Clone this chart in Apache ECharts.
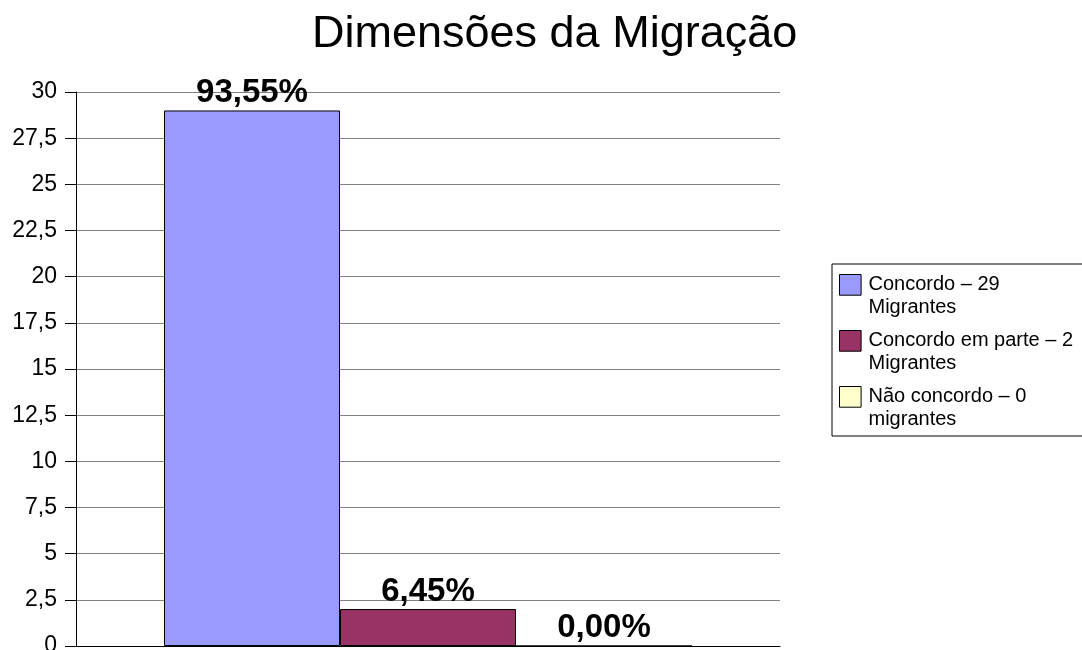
<!DOCTYPE html>
<html>
<head>
<meta charset="utf-8">
<script src="https://cdn.jsdelivr.net/npm/echarts@6/dist/echarts.min.js"></script>
<style>
html,body{margin:0;padding:0;background:#fff;}
#chart{width:1082px;height:650px;}
</style>
</head>
<body>
<div id="chart"></div>
<script>
const title = 'Dimensões da Migração';
const categories = [''];
const seriesNames = ['Concordo – 29\nMigrantes', 'Concordo em parte – 2\nMigrantes', 'Não concordo – 0\nmigrantes'];
const seriesValues = [29, 2, 0];
const seriesLabels = ['93,55%', '6,45%', '0,00%'];
const seriesColors = ['#9999ff', '#993366', '#ffffcc'];
const yMin = 0, yMax = 30, yStep = 2.5;

const FONT = 'Liberation Sans, Arial, sans-serif';
const iconPath = 'path://M0,0L0.01,0M0,1H21.6V21.7H0ZM24,45L23.99,45';

const chart = echarts.init(document.getElementById('chart'), null, {renderer: 'canvas'});
const series = seriesNames.map((name, i) => ({
  name: name,
  type: 'bar',
  data: [seriesValues[i]],
  barGap: '0%',
  barCategoryGap: '25%',
  itemStyle: {color: seriesColors[i], borderColor: '#000', borderWidth: 1},
  label: {
    show: true,
    position: 'top',
    distance: 1,
    formatter: () => seriesLabels[i],
    fontFamily: FONT,
    fontSize: 33,
    fontWeight: 'bold',
    color: '#000'
  },
  emphasis: {disabled: true},
  animation: false
}));

chart.setOption({
  animation: false,
  backgroundColor: '#fff',
  title: {
    text: title,
    left: 312,
    top: 12,
    padding: 0,
    textStyle: {fontFamily: FONT, fontSize: 45, fontWeight: 'normal', color: '#000'}
  },
  legend: {
    orient: 'vertical',
    left: 832,
    top: 264,
    padding: [9, 40, 5, 7],
    itemGap: 10,
    itemWidth: 24,
    itemHeight: 45,
    icon: iconPath,
    borderColor: '#000',
    borderWidth: 1,
    itemStyle: {borderColor: '#000', borderWidth: 1},
    textStyle: {fontFamily: FONT, fontSize: 20, lineHeight: 22.5, color: '#000', padding: 0},
    data: seriesNames
  },
  grid: {left: 76, right: 302, top: 92, bottom: 4, containLabel: false, outerBoundsMode: 'none'},
  xAxis: {
    type: 'category',
    data: categories,
    axisLine: {show: true, lineStyle: {color: '#000', width: 1}},
    axisTick: {show: false},
    axisLabel: {show: false},
    splitLine: {show: false}
  },
  yAxis: {
    type: 'value',
    min: yMin,
    max: yMax,
    interval: yStep,
    axisLine: {show: true, lineStyle: {color: '#000', width: 1}},
    axisTick: {show: true, length: 11, lineStyle: {color: '#000'}},
    axisLabel: {
      margin: 19,
      fontFamily: FONT,
      fontSize: 23,
      color: '#000',
      formatter: v => String(v).replace('.', ',')
    },
    splitLine: {show: true, lineStyle: {color: '#808080', width: 1}}
  },
  series: series
});
</script>
</body>
</html>
